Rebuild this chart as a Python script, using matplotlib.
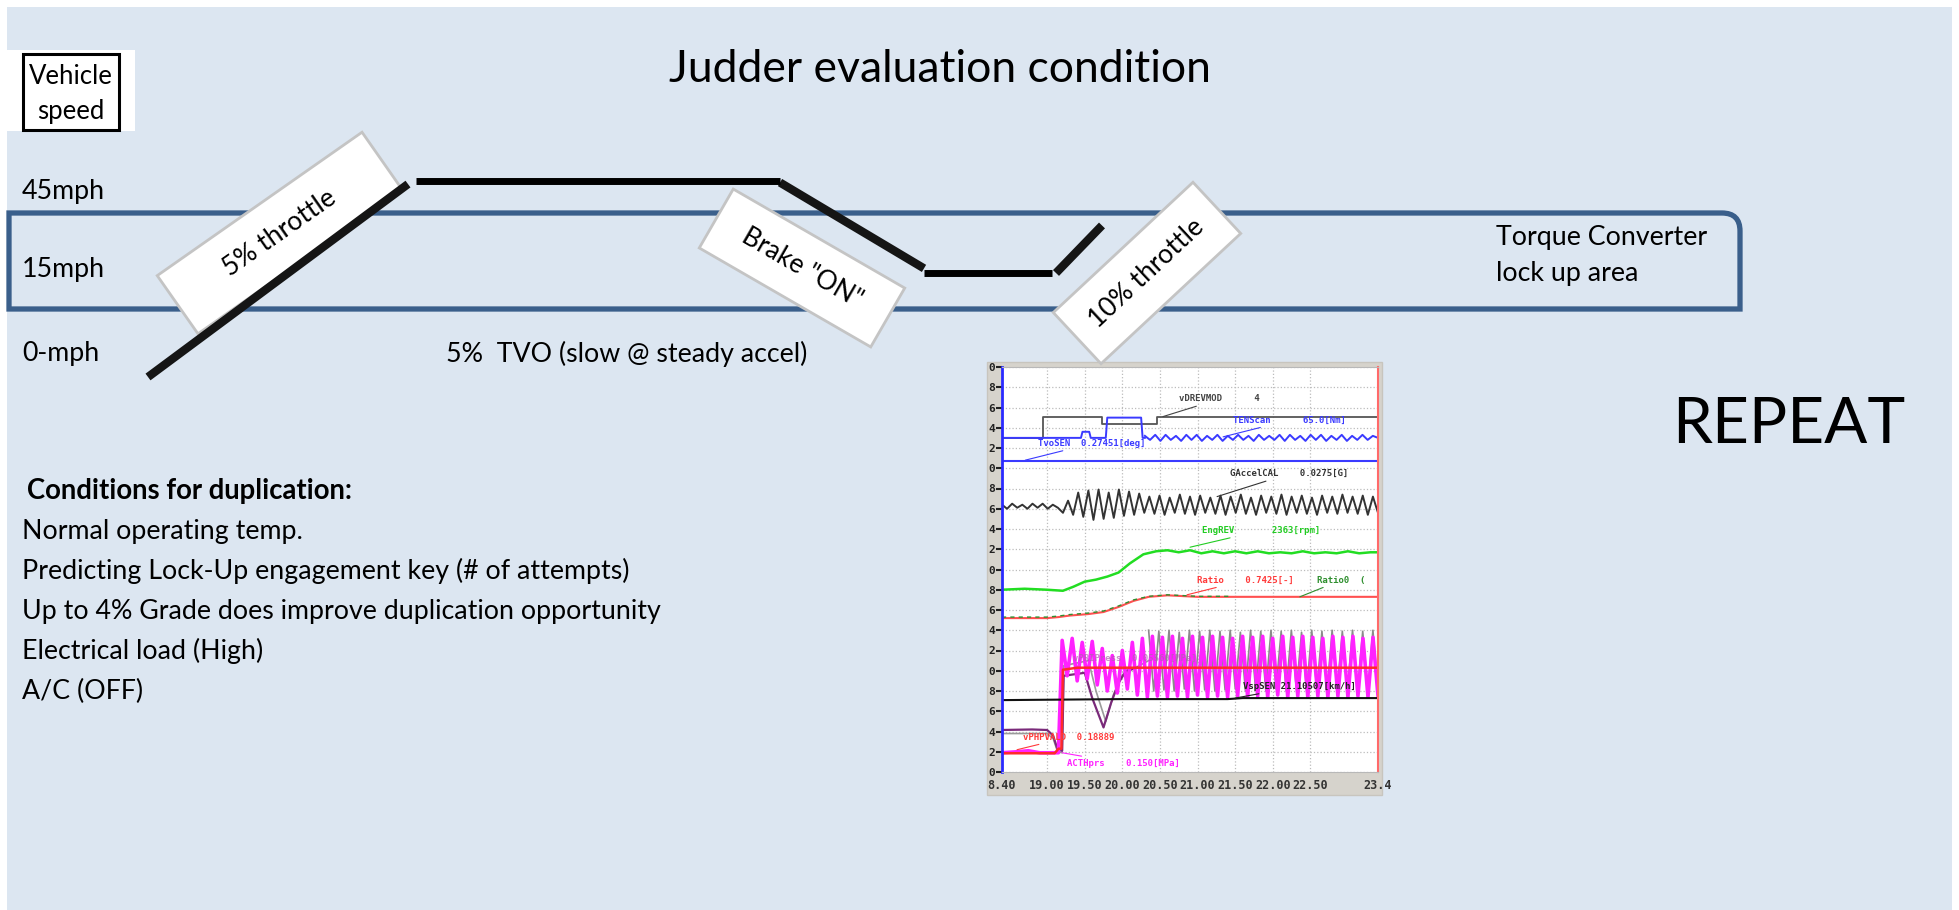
import numpy as np
import matplotlib
matplotlib.use("Agg")
import matplotlib.pyplot as plt
from matplotlib.patches import Rectangle, PathPatch
from matplotlib.path import Path

plt.rcParams['font.family'] = ['Lato', 'DejaVu Sans']

W, H = 1959, 910
BODY = 19.3

# ---------------- speed profile (time in 1/4 s steps, speed in mph) ----------------
accel_t, accel_mph = [0, 65], [0, 44]
cruise_t, cruise_mph = [67, 158], [45, 45]
brake_t, brake_mph = [158, 194], [44.5, 16.5]
low_t, low_mph = [194, 226], [15, 15]
rise_t, rise_mph = [227, 238.5], [15, 30.5]

# the sketch is not to scale: piecewise speed axis
speed_knots = [-80, 0, 15, 45, 110]
height_knots = [-21.7, 533, 637, 729, 928.3]

# ---------------- logger screenshot traces (time s, channel units) ----------------
vdrev_t = [18.40, 18.95, 19.73, 20.46, 23.40]
vdrev_v = [33.0, 35.1, 34.4, 35.1, 35.1]

tens_t = [18.40, 19.45, 19.47, 19.56, 19.58, 19.78, 19.80, 20.25, 20.27, 20.30]
tens_v = [33.0, 33.0, 33.6, 33.6, 33.0, 33.0, 35.0, 35.0, 33.0, 33.0]
tens_ripple = [33.2, 32.8, 33.3, 32.7, 33.3, 32.8, 33.2, 32.7, 33.3, 32.8, 33.3, 32.7,
               33.2, 32.8, 33.3, 32.7, 33.2, 32.8, 33.3, 32.8, 33.2, 32.7, 33.3, 32.8,
               33.2, 32.8, 33.3, 32.7, 33.3, 32.8, 33.2, 32.7, 33.3, 32.8, 33.3, 32.7,
               33.2, 32.8, 33.3, 32.7, 33.2, 32.8, 33.3, 32.8, 33.2, 33.0]

tvo_t, tvo_v = [18.40, 23.40], [30.7, 30.7]

gaccel = [26.4, 26.0, 26.5, 26.1, 26.4, 26.0, 26.5, 26.1, 26.5, 26.0, 26.4, 26.1,
          25.6, 26.8, 25.4,
          27.6, 25.2, 27.8, 24.9, 27.9, 25.0, 27.6, 25.1, 27.9, 25.3, 27.7, 25.4, 27.5,
          25.6, 27.2, 25.5, 27.3, 25.4, 27.1, 25.6, 27.4, 25.5, 27.2, 25.4, 27.3, 25.6,
          27.1, 25.5, 27.3, 25.4, 27.2, 25.6, 27.4, 25.5, 27.1, 25.4, 27.3, 25.6, 27.2,
          25.5, 27.4, 25.4, 27.2, 25.6, 27.3, 25.5, 27.1, 25.4, 27.3, 25.6, 27.2, 25.5,
          27.4, 25.6, 27.2, 25.5, 27.3, 25.4, 27.2, 25.6]

engrev_t = [18.40, 18.70, 19.00, 19.21, 19.35, 19.50, 19.65, 19.80, 19.95, 20.10, 20.28,
            20.45, 20.60, 20.75, 20.90, 21.05, 21.20, 21.35, 21.50, 21.65, 21.80, 21.95,
            22.10, 22.25, 22.40, 22.55, 22.70, 22.85, 23.00, 23.15, 23.30, 23.40]
engrev_v = [18.0, 18.1, 18.0, 17.9, 18.3, 18.8, 19.0, 19.3, 19.7, 20.6, 21.5,
            21.8, 21.9, 21.7, 21.9, 21.6, 21.8, 21.6, 21.8, 21.6, 21.8, 21.6,
            21.7, 21.6, 21.8, 21.6, 21.7, 21.6, 21.8, 21.6, 21.7, 21.7]

ratio_t = [18.40, 19.00, 19.15, 19.30, 19.55, 19.75, 19.95, 20.15, 20.35, 20.60, 21.00, 23.40]
ratio_v = [15.2, 15.2, 15.3, 15.45, 15.6, 15.8, 16.3, 16.9, 17.3, 17.45, 17.3, 17.3]
ratio0_t = [18.40, 19.00, 19.15, 19.30, 19.55, 19.75, 19.95, 20.15, 20.35, 20.60, 21.00, 21.43]
ratio0_v = [15.3, 15.3, 15.4, 15.55, 15.7, 15.9, 16.4, 17.0, 17.35, 17.5, 17.35, 17.35]

vsp_t, vsp_v = [18.40, 20.00, 21.40, 21.60, 23.40], [7.1, 7.2, 7.2, 7.3, 7.3]

purple_t = [18.40, 18.80, 19.00, 19.08, 19.14, 19.20, 19.22, 19.50, 19.60, 19.75, 19.85, 19.95, 20.05, 20.20]
purple_v = [4.15, 4.2, 4.15, 3.6, 2.2, 2.1, 9.5, 9.8, 7.3, 4.4, 6.8, 8.8, 10.0, 10.3]
grey_t = [18.40, 19.00, 19.08, 19.14, 19.20, 19.22, 19.55, 19.65, 19.78, 19.88, 20.00, 20.35]
grey_v = [3.8, 3.8, 3.3, 2.0, 1.9, 10.5, 11.0, 8.0, 5.0, 7.6, 9.6, 11.0]
grey_osc = [14.0, 8.0, 13.9, 8.1, 14.0, 8.0, 13.8, 8.2, 14.0, 8.0, 13.9, 8.1, 14.0, 8.0, 13.9,
            8.1, 14.0, 8.2, 13.8, 8.0, 14.0, 8.1, 13.9, 8.0, 14.0, 8.2, 13.9, 8.0, 14.0, 8.1,
            13.8, 8.0, 14.0, 8.1, 13.9, 8.0, 14.0, 8.2, 13.9, 8.0, 14.0, 8.1, 13.9, 8.0, 14.0, 8.1]

red_t = [18.40, 19.10, 19.15, 19.19, 19.21, 19.40, 23.40]
red_v = [1.85, 1.85, 2.3, 2.3, 10.1, 10.3, 10.3]

magenta_pre_t = [18.40, 18.60, 18.75, 18.90, 19.05, 19.15]
magenta_pre_v = [1.9, 2.0, 2.1, 1.9, 1.9, 1.9]
magenta_osc = [13.0, 9.5, 13.2, 9.0, 12.8, 9.2, 12.9, 8.6, 12.2, 8.0, 11.5, 7.8,
               12.0, 8.2, 12.8, 7.6, 13.2, 7.4, 13.4,
               7.5, 13.3, 7.4, 13.4, 7.5, 13.2, 7.4, 13.4, 7.6, 13.3, 7.4, 13.4, 7.5, 13.3,
               7.4, 13.2, 7.5, 13.4, 7.4, 13.3, 7.5, 13.4, 7.4, 13.2, 7.6, 13.4, 7.4, 13.3,
               7.5, 13.4, 7.4, 13.3, 7.5, 13.2, 7.4, 13.4, 7.5, 13.3, 7.4, 13.4, 7.5, 13.2,
               7.4, 13.3, 7.5]

time_ticks = [18.4, 19.0, 19.5, 20.0, 20.5, 21.0, 21.5, 22.0, 22.5, 23.4]
time_labels = ['8.40', '19.00', '19.50', '20.00', '20.50', '21.00', '21.50', '22.00', '22.50', '23.4']

conditions = ['Normal operating temp.',
              'Predicting Lock-Up engagement key (# of attempts)',
              'Up to 4% Grade does improve duplication opportunity',
              'Electrical load (High)',
              'A/C (OFF)']

callouts = [('5% throttle', (280, 233), 250, 71, 35),
            ('Brake "ON"', (802, 268), 198, 68, -30),
            ('10% throttle', (1147, 273), 191, 70, 43)]

# ---------------- figure ----------------
fig = plt.figure(figsize=(W / 100, H / 100), dpi=100)
fig.patch.set_facecolor('white')

ax = fig.add_axes([0, 0, 1, 1], zorder=0)
ax.set_xlim(0, W)
ax.set_ylim(H, 0)
ax.axis('off')

ax.add_patch(Rectangle((7, 7), 1945, 903, fc='#dce6f1', ec='none'))

ax.text(940, 69, 'Judder evaluation condition', ha='center', va='center', fontsize=32)

# vehicle speed label
ax.add_patch(Rectangle((7, 50), 128, 81, fc='white', ec='none'))
ax.add_patch(Rectangle((23, 54), 96, 76, fc='none', ec='black', lw=2.2))
ax.text(71, 77, 'Vehicle', ha='center', va='center', fontsize=18.5)
ax.text(71, 111, 'speed', ha='center', va='center', fontsize=18.5)

for y, lab in [(192, '45mph'), (270, '15mph'), (354, '0-mph')]:
    ax.text(22, y, lab, va='center', fontsize=BODY)
ax.text(446, 354, '5%  TVO (slow @ steady accel)', va='center', fontsize=BODY)

# torque converter lock-up band
band = Path([(9, 309), (9, 213), (1722, 213), (1740, 213), (1740, 231), (1740, 309), (9, 309)],
            [Path.MOVETO, Path.LINETO, Path.LINETO, Path.CURVE3, Path.CURVE3, Path.LINETO, Path.CLOSEPOLY])
ax.add_patch(PathPatch(band, fc='none', ec='#3a5f8b', lw=3.8, joinstyle='miter'))
ax.text(1496, 238, 'Torque Converter', va='center', fontsize=BODY)
ax.text(1496, 273, 'lock up area', va='center', fontsize=BODY)

ax.text(1672, 425, 'REPEAT', va='center', fontsize=46)

ax.text(27, 491, 'Conditions for duplication:', va='center', fontsize=19.8, fontweight='bold')
for i, line in enumerate(conditions):
    ax.text(22, 531 + i * 40, line, va='center', fontsize=BODY)

# screenshot frame
ax.add_patch(Rectangle((987, 362), 395, 433, fc='#d6d3cc', ec='#c8c5be', lw=1))

# ---------------- logger screenshot ----------------
sc = fig.add_axes([1002 / W, 1 - 772 / H, 376 / W, 405 / H], zorder=2)
sc.set_facecolor('white')
sc.set_xlim(18.4, 23.4)
sc.set_ylim(0, 40)
yt = list(range(0, 41, 2))
sc.set_yticks(yt)
sc.set_yticklabels([str(v % 10) for v in yt])
sc.set_xticks(time_ticks)
sc.set_xticklabels(time_labels)
for lab in sc.get_xticklabels() + sc.get_yticklabels():
    lab.set_family('DejaVu Sans Mono')
    lab.set_fontweight('bold')
sc.tick_params(axis='y', length=4, width=1.5, pad=1, labelsize=8, colors='#222222')
sc.tick_params(axis='x', length=0, pad=5, labelsize=8.5, colors='#333333')
sc.grid(True, ls=':', color='#bcbcbc', lw=0.9)
sc.set_axisbelow(True)
sc.spines['left'].set_color('#2a2aff')
sc.spines['left'].set_linewidth(2)
sc.spines['right'].set_color('#ff6a6a')
sc.spines['right'].set_linewidth(1.5)
sc.spines['top'].set_color('#b8b8b8')
sc.spines['bottom'].set_color('#b8b8b8')

sc.plot(vdrev_t, vdrev_v, drawstyle='steps-post', color='#555555', lw=1.3)
sc.plot(tens_t, tens_v, color='#3a3aff', lw=1.4)
sc.plot(np.linspace(20.30, 23.40, len(tens_ripple)), tens_ripple, color='#3a3aff', lw=1.4)
sc.plot(tvo_t, tvo_v, color='#3a3aff', lw=1.5)
sc.plot(np.linspace(18.40, 23.40, len(gaccel)), gaccel, color='#333333', lw=1.4)
sc.plot(engrev_t, engrev_v, color='#22dd22', lw=1.8)
sc.plot(ratio_t, ratio_v, color='#ff5050', lw=1.5)
sc.plot(ratio0_t, ratio0_v, color='#2f8f2f', lw=1.0, ls=(0, (3, 3)))
sc.plot(grey_t, grey_v, color='#9a9a9a', lw=1.2)
sc.plot(np.linspace(20.35, 23.40, len(grey_osc)), grey_osc, color='#8a8a8a', lw=1.2)
sc.plot(purple_t, purple_v, color='#7a2a7a', lw=1.6)
sc.plot(magenta_pre_t + list(np.linspace(19.20, 23.40, len(magenta_osc))),
        magenta_pre_v + magenta_osc, color='#ff22ff', lw=2.6)
sc.plot(vsp_t, vsp_v, color='#111111', lw=1.5)
sc.plot(red_t, red_v, color='#ff2a2a', lw=1.8)

mono = dict(family='DejaVu Sans Mono', fontsize=6.5, fontweight='bold')
notes = [('vDREVMOD      4', (20.54, 35.1), (20.76, 36.4), '#444444'),
         ('TENScan      65.0[Nm]', (21.34, 33.1), (21.47, 34.3), '#3a3aff'),
         ('TvoSEN  0.27451[deg]', (18.71, 30.8), (18.88, 32.0), '#3a3aff'),
         ('GAccelCAL    0.0275[G]', (21.26, 27.2), (21.43, 29.0), '#333333'),
         ('EngREV       2363[rpm]', (20.90, 22.2), (21.06, 23.4), '#22cc22'),
         ('Ratio    0.7425[-]', (20.86, 17.5), (20.99, 18.5), '#ff3a3a'),
         ('Ratio0  (', (22.36, 17.3), (22.59, 18.5), '#2f8f2f'),
         ('VspSEN 21.10507[km/h]', (21.50, 7.3), (21.60, 8.0), '#222222'),
         ('vPHPVALD  0.18889', (18.60, 2.2), (18.68, 3.0), '#ff3a3a'),
         ('ACTHprs    0.150[MPa]', (19.20, 1.9), (19.26, 0.4), '#ff22ff')]
for txt, xy, xyt, col in notes:
    sc.annotate(txt, xy=xy, xytext=xyt, color=col, va='bottom', ha='left',
                arrowprops=dict(arrowstyle='-', color=col, lw=0.8, shrinkA=0, shrinkB=0), **mono)
sc.text(19.34, 11.0, 'vPRIPress  0.05560[MPa]', color='#b060b0', alpha=0.7, **mono)

# ---------------- callouts on top ----------------
top = fig.add_axes([0, 0, 1, 1], zorder=3)
top.set_xlim(0, W)
top.set_ylim(H, 0)
top.axis('off')
for label, (cx, cy), w, h, ang in callouts:
    top.add_patch(Rectangle((cx - w / 2, cy - h / 2), w, h, angle=-ang, rotation_point='center',
                            fc='white', ec='#c4c4c4', lw=2))
    top.text(cx, cy, label, rotation=ang, rotation_mode='anchor', ha='center', va='center',
             fontsize=19)

# ---------------- speed trace ----------------
sp = fig.add_axes([0, 0, 1, 1], zorder=4)
sp.patch.set_alpha(0)
fwd = lambda v: np.interp(v, speed_knots, height_knots)
inv = lambda h: np.interp(h, height_knots, speed_knots)
sp.set_yscale('function', functions=(fwd, inv))
sp.set_xlim(-37, (W - 148) / 4)
sp.set_ylim(inv(0), inv(H))
sp.axis('off')
for t, v in [(accel_t, accel_mph), (brake_t, brake_mph), (rise_t, rise_mph)]:
    sp.plot(t, v, color='#151515', lw=6, solid_capstyle='butt')
for t, v in [(cruise_t, cruise_mph), (low_t, low_mph)]:
    sp.plot(t, v, color='black', lw=5, solid_capstyle='butt')

fig.savefig('out.png', dpi=100, facecolor='white')
